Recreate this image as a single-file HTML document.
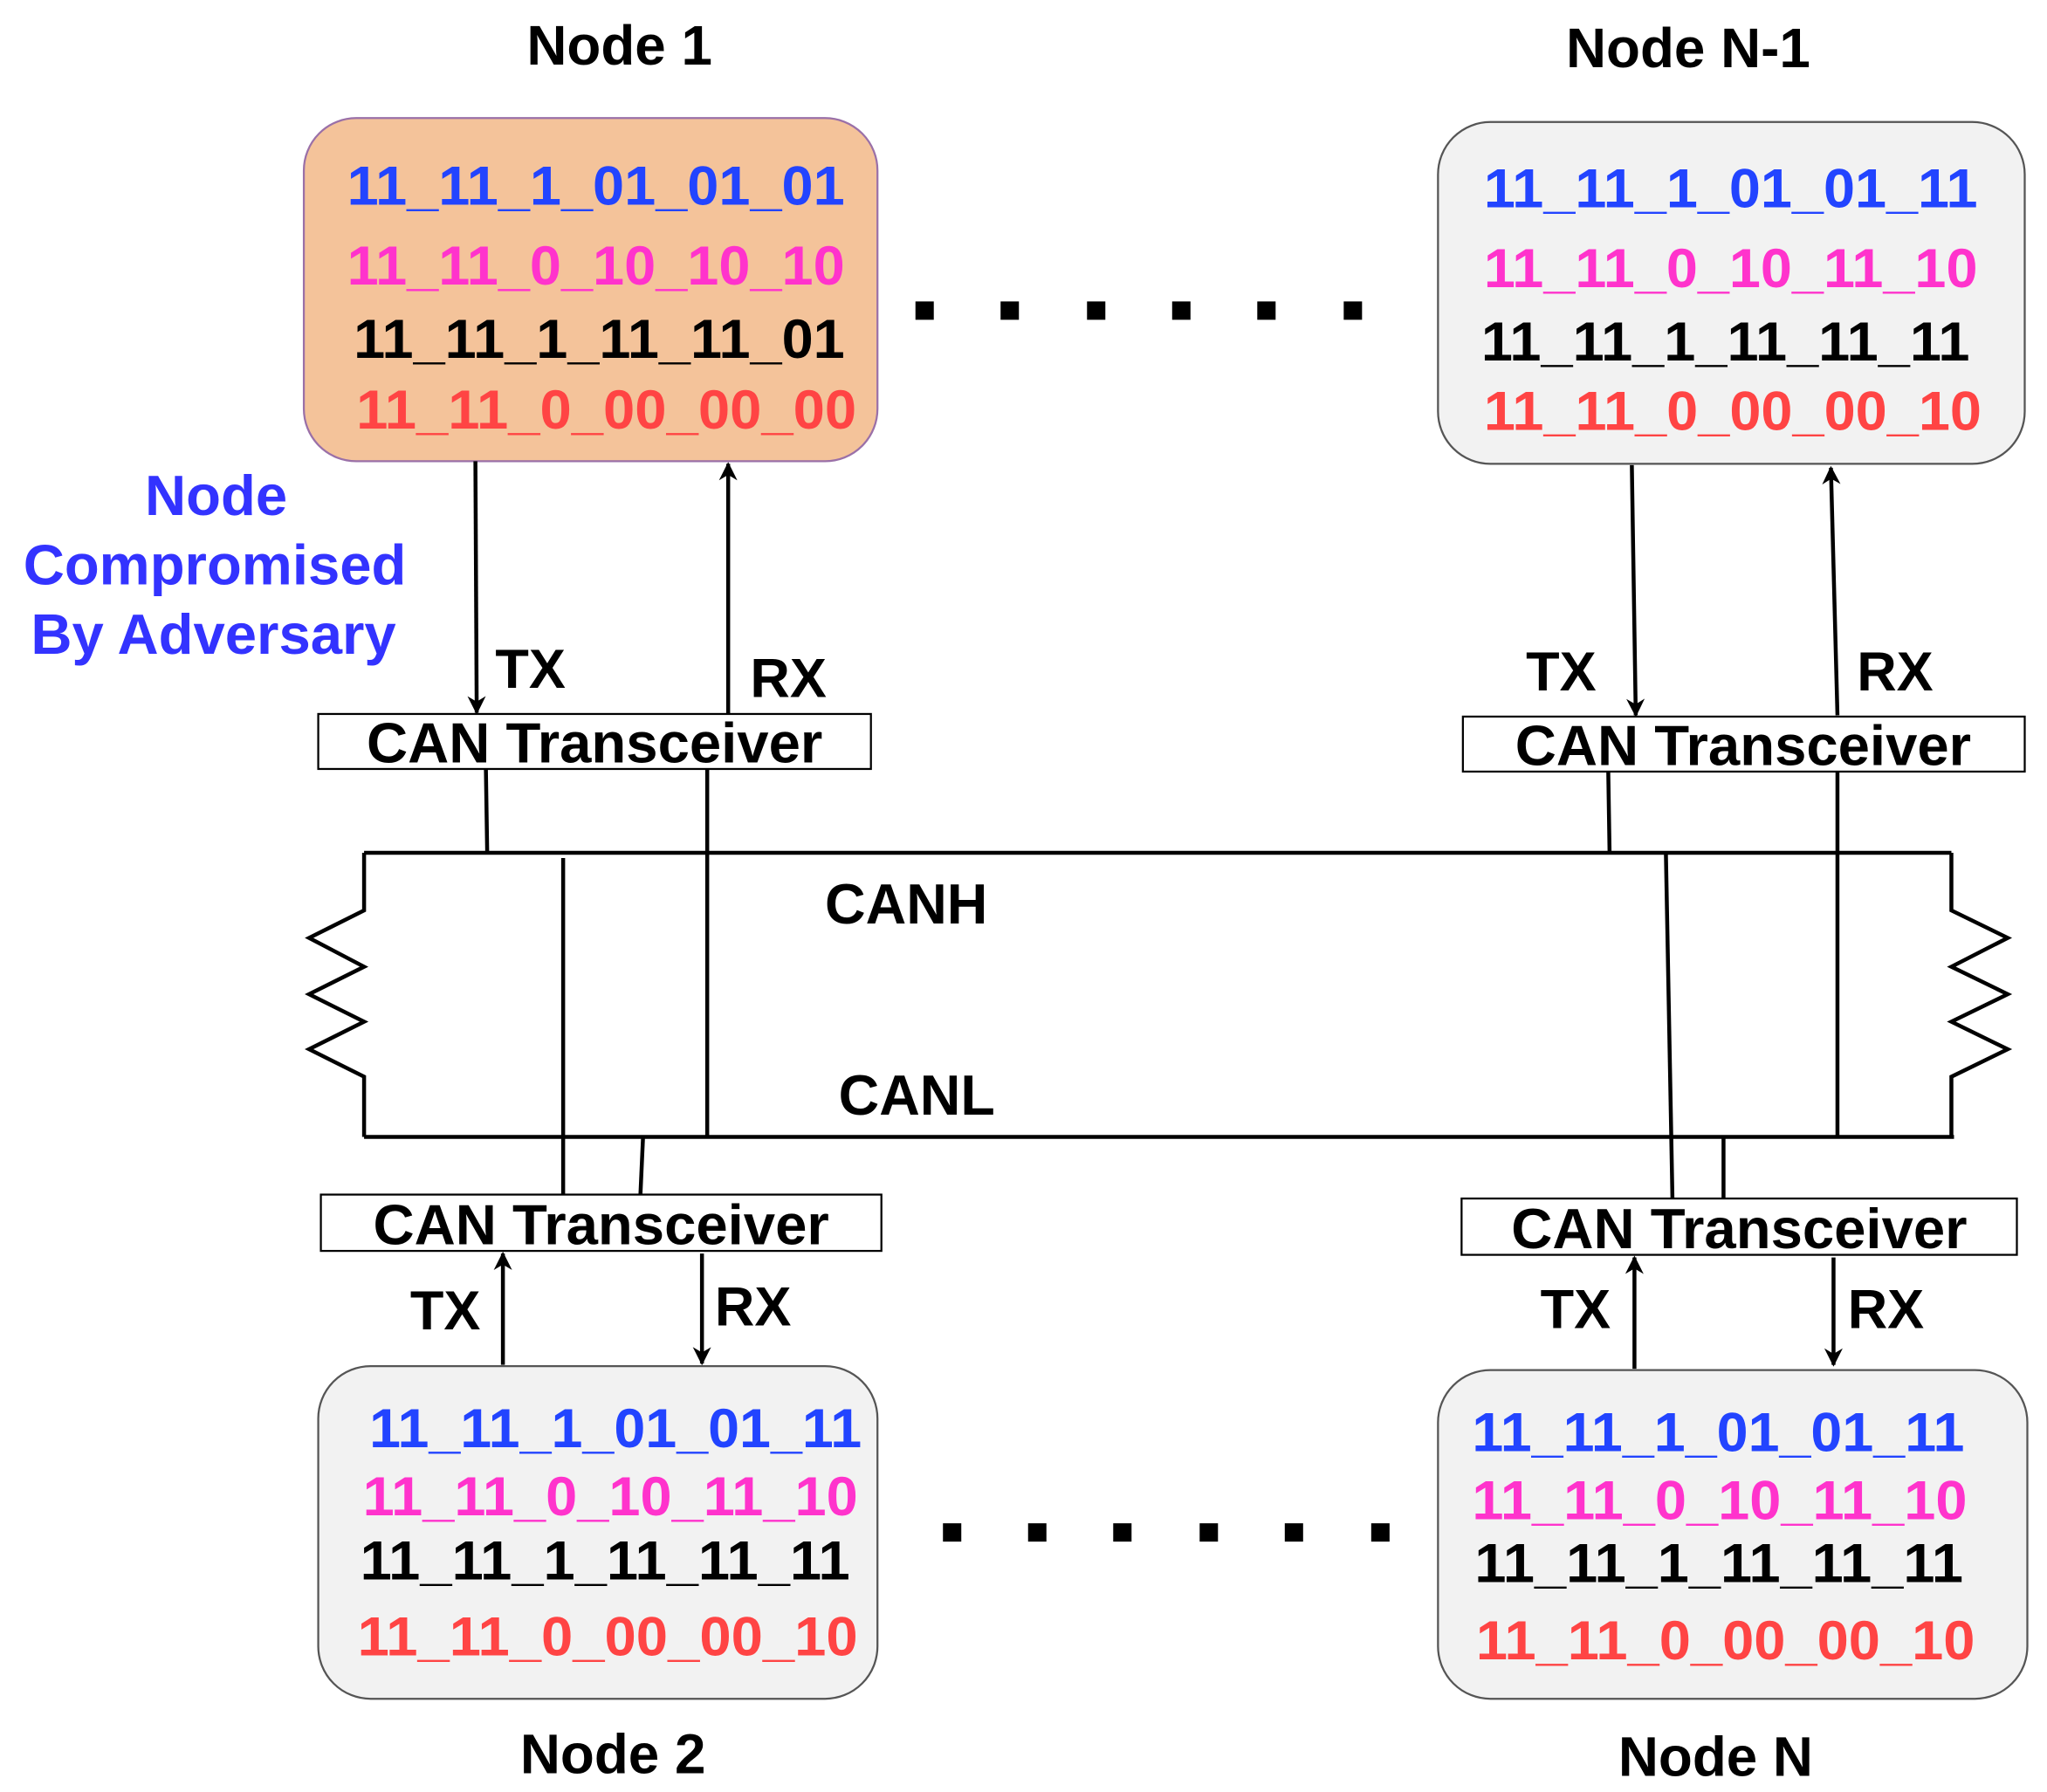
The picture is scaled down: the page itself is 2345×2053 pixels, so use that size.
<!DOCTYPE html>
<html><head><meta charset="utf-8"><style>
html,body{margin:0;padding:0;background:#fff;}
svg{display:block;}
text{font-family:"Liberation Sans",Arial,sans-serif;font-weight:bold;}
</style></head><body>
<svg width="2345" height="2053" viewBox="0 0 1563 1368" xmlns="http://www.w3.org/2000/svg">
<defs>
<marker id="a" viewBox="0 0 10 10" markerWidth="14" markerHeight="14" refX="9" refY="5" orient="auto" markerUnits="userSpaceOnUse"><path d="M0,0 L10,5 L0,10 L3,5 z" fill="#000"/></marker>
</defs>
<g font-size="42.5" text-anchor="middle" fill="#000">
<text x="473" y="49">Node 1</text>
<text x="1289" y="51">Node N-1</text>
<text x="468" y="1354">Node 2</text>
<text x="1310" y="1356">Node N</text>
</g>
<rect x="232" y="90" width="438" height="262" rx="40" fill="#F4C39A" stroke="#9a70a8" stroke-width="1.5"/>
<rect x="1098" y="93" width="448" height="261" rx="40" fill="#f2f2f2" stroke="#555" stroke-width="1.5"/>
<rect x="243" y="1043" width="427" height="254" rx="40" fill="#f2f2f2" stroke="#555" stroke-width="1.5"/>
<rect x="1098" y="1046" width="450" height="251" rx="40" fill="#f2f2f2" stroke="#555" stroke-width="1.5"/>
<g font-size="42">
<text x="265" y="156" fill="#2244ff" textLength="380" lengthAdjust="spacingAndGlyphs">11_11_1_01_01_01</text>
<text x="265" y="217" fill="#ff33cc" textLength="380" lengthAdjust="spacingAndGlyphs">11_11_0_10_10_10</text>
<text x="270" y="273" fill="#000" textLength="375" lengthAdjust="spacingAndGlyphs">11_11_1_11_11_01</text>
<text x="272" y="327" fill="#ff4444" textLength="382" lengthAdjust="spacingAndGlyphs">11_11_0_00_00_00</text>

<text x="1133" y="158" fill="#2244ff" textLength="377" lengthAdjust="spacingAndGlyphs">11_11_1_01_01_11</text>
<text x="1133" y="219" fill="#ff33cc" textLength="377" lengthAdjust="spacingAndGlyphs">11_11_0_10_11_10</text>
<text x="1131" y="275" fill="#000" textLength="373" lengthAdjust="spacingAndGlyphs">11_11_1_11_11_11</text>
<text x="1133" y="328" fill="#ff4444" textLength="380" lengthAdjust="spacingAndGlyphs">11_11_0_00_00_10</text>

<text x="282" y="1105" fill="#2244ff" textLength="376" lengthAdjust="spacingAndGlyphs">11_11_1_01_01_11</text>
<text x="277" y="1157" fill="#ff33cc" textLength="378" lengthAdjust="spacingAndGlyphs">11_11_0_10_11_10</text>
<text x="275" y="1206" fill="#000" textLength="374" lengthAdjust="spacingAndGlyphs">11_11_1_11_11_11</text>
<text x="273" y="1264" fill="#ff4444" textLength="382" lengthAdjust="spacingAndGlyphs">11_11_0_00_00_10</text>

<text x="1124" y="1108" fill="#2244ff" textLength="376" lengthAdjust="spacingAndGlyphs">11_11_1_01_01_11</text>
<text x="1124" y="1160" fill="#ff33cc" textLength="378" lengthAdjust="spacingAndGlyphs">11_11_0_10_11_10</text>
<text x="1126" y="1208" fill="#000" textLength="373" lengthAdjust="spacingAndGlyphs">11_11_1_11_11_11</text>
<text x="1127" y="1267" fill="#ff4444" textLength="381" lengthAdjust="spacingAndGlyphs">11_11_0_00_00_10</text>
</g>
<g fill="#000">
<rect x="699" y="230" width="14" height="14"/><rect x="764" y="230" width="14" height="14"/><rect x="830" y="230" width="14" height="14"/><rect x="895" y="230" width="14" height="14"/><rect x="960" y="230" width="14" height="14"/><rect x="1026" y="230" width="14" height="14"/>
<rect x="720" y="1163" width="14" height="14"/><rect x="785" y="1163" width="14" height="14"/><rect x="850" y="1163" width="14" height="14"/><rect x="916" y="1163" width="14" height="14"/><rect x="981" y="1163" width="14" height="14"/><rect x="1047" y="1163" width="14" height="14"/>
</g>
<g font-size="43.5" fill="#3333ff" text-anchor="middle">
<text x="165" y="393">Node</text>
<text x="164" y="446">Compromised</text>
<text x="163" y="499">By Adversary</text>
</g>
<g fill="#fff" stroke="#000" stroke-width="1.5">
<rect x="243" y="545" width="422" height="42"/>
<rect x="1117" y="547" width="429" height="42"/>
<rect x="245" y="912" width="428" height="43"/>
<rect x="1116" y="915" width="424" height="43"/>
</g>
<g font-size="43.5" text-anchor="middle">
<text x="454" y="582">CAN Transceiver</text>
<text x="1331" y="584">CAN Transceiver</text>
<text x="459" y="950">CAN Transceiver</text>
<text x="1328" y="953">CAN Transceiver</text>
</g>
<g stroke="#000" stroke-width="3" fill="none" marker-end="url(#a)">
<line x1="363" y1="352" x2="364" y2="544"/>
<line x1="556" y1="545" x2="556" y2="354"/>
<line x1="1246" y1="355" x2="1249" y2="546"/>
<line x1="1403" y1="546" x2="1398" y2="357"/>
<line x1="384" y1="1042" x2="384" y2="957"/>
<line x1="536" y1="957" x2="536" y2="1041"/>
<line x1="1248" y1="1045" x2="1248" y2="960"/>
<line x1="1400" y1="960" x2="1400" y2="1042"/>
</g>
<g font-size="42" text-anchor="middle">
<text x="405" y="525">TX</text>
<text x="602" y="532">RX</text>
<text x="1192" y="527">TX</text>
<text x="1447" y="527">RX</text>
<text x="340" y="1015">TX</text>
<text x="575" y="1012">RX</text>
<text x="1203" y="1014">TX</text>
<text x="1440" y="1014">RX</text>
</g>
<g font-size="43" text-anchor="middle">
<text x="692" y="705">CANH</text>
<text x="700" y="851">CANL</text>
</g>
<g stroke="#000" stroke-width="3" fill="none">
<line x1="278" y1="651" x2="1490" y2="651"/>
<line x1="278" y1="868" x2="1492" y2="868"/>
<polyline points="278,651 278,695 236,716 278,738 236,759 278,780 236,801 278,822 278,868"/>
<polyline points="1490,651 1490,695 1533,716 1490,738 1533,759 1490,780 1533,801 1490,822 1490,868"/>
<line x1="371" y1="587" x2="372" y2="651"/>
<line x1="540" y1="587" x2="540" y2="868"/>
<line x1="430" y1="655" x2="430" y2="912"/>
<line x1="491" y1="868" x2="489" y2="912"/>
<line x1="1228" y1="589" x2="1229" y2="651"/>
<line x1="1403" y1="589" x2="1403" y2="868"/>
<line x1="1272" y1="651" x2="1277" y2="915"/>
<line x1="1316" y1="868" x2="1316" y2="915"/>
</g>
</svg>
</body></html>
